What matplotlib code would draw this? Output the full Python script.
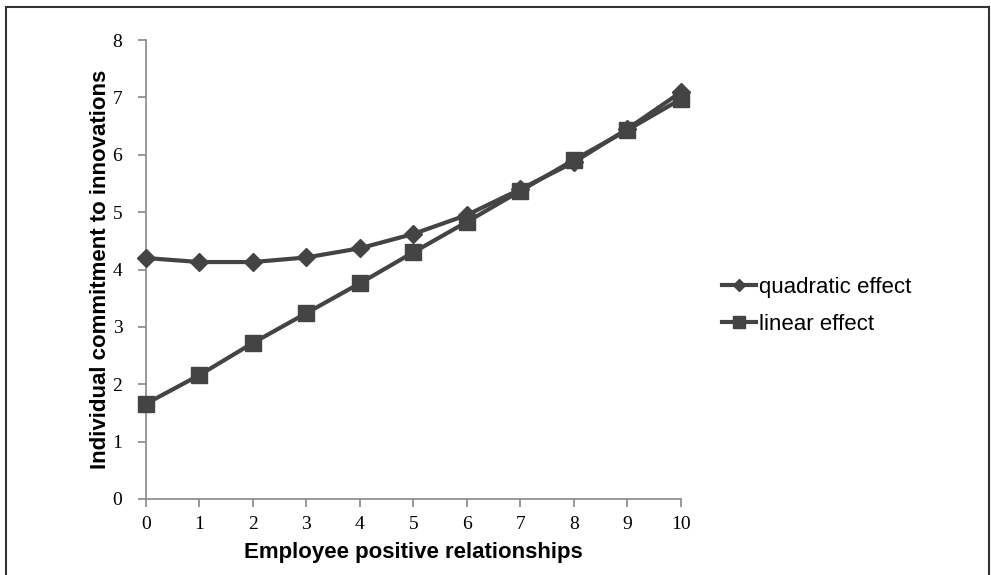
import matplotlib
matplotlib.use("Agg")
import matplotlib.pyplot as plt
import matplotlib.patches as patches
from matplotlib.lines import Line2D

relacoes = [0, 1, 2, 3, 4, 5, 6, 7, 8, 9, 10]
quadratico = [4.20, 4.13, 4.13, 4.21, 4.37, 4.62, 4.95, 5.40, 5.87, 6.45, 7.09]
linear = [1.66, 2.16, 2.72, 3.24, 3.76, 4.30, 4.83, 5.37, 5.91, 6.43, 6.97]

cor = "#444444"
serif = "Liberation Serif"
sans = "Liberation Sans"

fig = plt.figure(figsize=(9.91, 5.75), dpi=100)
ax = fig.add_axes([0.1473, 0.1322, 0.687 - 0.1473, 0.9304 - 0.1322])

ax.plot(relacoes, quadratico, color=cor, lw=3, marker="D", markersize=9,
        clip_on=False, zorder=3)
ax.plot(relacoes, linear, color=cor, lw=3, marker="s", markersize=11,
        clip_on=False, zorder=3)

ax.set_xlim(0, 10)
ax.set_ylim(0, 8)
ax.set_xticks(relacoes)
ax.set_yticks(range(0, 9))
for lado in ["top", "right"]:
    ax.spines[lado].set_visible(False)
for lado in ["left", "bottom"]:
    ax.spines[lado].set_color("#888888")
    ax.spines[lado].set_linewidth(1.2)
ax.tick_params(axis="both", direction="out", length=6, color="#888888", width=1.2)
ax.tick_params(axis="both", labelsize=14)
for t in ax.get_xticklabels() + ax.get_yticklabels():
    t.set_fontfamily(serif)
ax.tick_params(axis="y", pad=11)
ax.tick_params(axis="x", pad=6)

ax.set_xlabel("Employee positive relationships", fontsize=16, fontweight="bold",
              fontfamily=sans, labelpad=7)
ax.set_ylabel("Individual commitment to innovations", fontsize=16, fontweight="bold",
              fontfamily=sans, labelpad=1)

# legenda com marcadores menores
marcas = [Line2D([], [], color=cor, lw=3, marker="D", markersize=6),
          Line2D([], [], color=cor, lw=3, marker="s", markersize=8)]
fig.legend(marcas, ["quadratic effect", "linear effect"], loc="center left",
           bbox_to_anchor=(0.708, 0.468), frameon=False,
           prop={"family": sans, "size": 16}, handlelength=1.55, handletextpad=0.12,
           labelspacing=0.72)

# moldura da figura
fig.patches.append(patches.Rectangle((6 / 991, -0.05), (989 - 6) / 991, 1 - 7 / 575 + 0.05,
                                     transform=fig.transFigure, fill=False,
                                     edgecolor="#333333", lw=1.5))

fig.savefig("out.png", dpi=100)
